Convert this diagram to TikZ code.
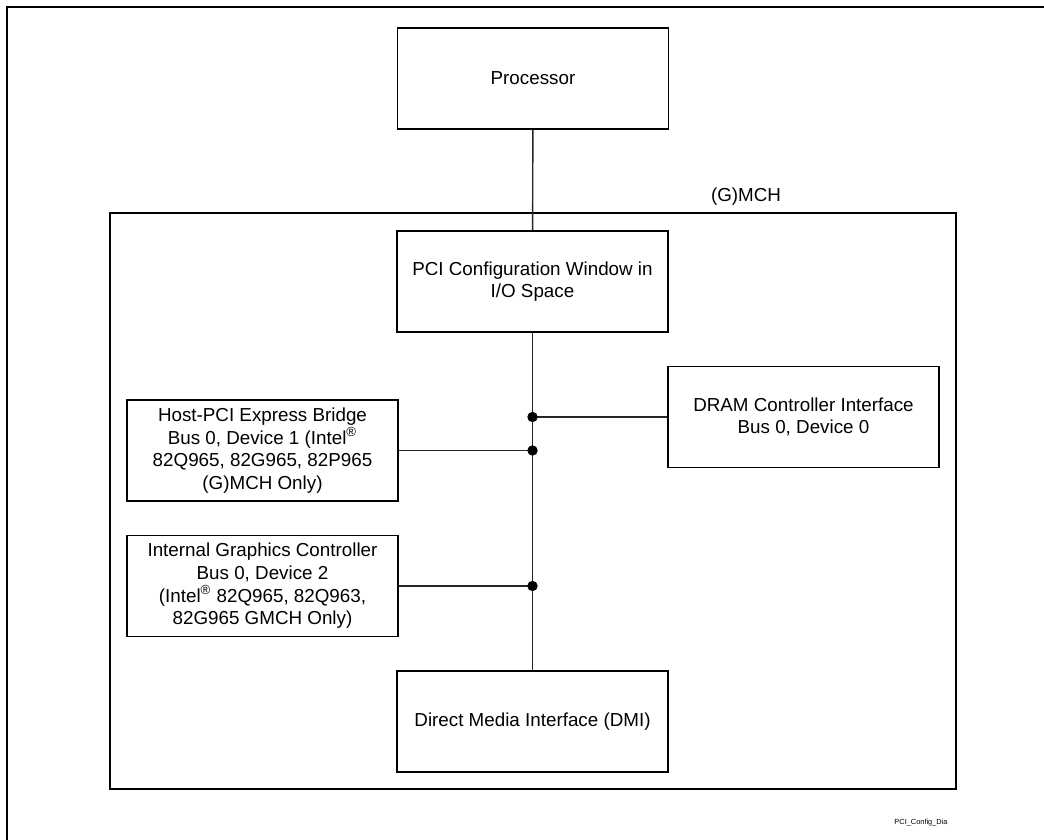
\documentclass[tikz,border=0pt]{standalone}
\usepackage{fontspec}
\setmainfont{Liberation Sans}
\usepackage{tikz}

\begin{document}
\begin{tikzpicture}[
    x=0.5pt, y=-0.5pt,
    block/.style={rectangle, draw=black, line width=0.7pt, minimum width=135.5pt, minimum height=50.5pt, inner sep=0pt, font=\fontsize{9.4}{11.3}\selectfont},
    chip/.style={rectangle, draw=black, line width=1.2pt, minimum width=423pt, minimum height=288pt, inner sep=0pt},
    wire/.style={line width=0.7pt, draw=black!85},
    dot/.style={fill=black},
    every node/.style={align=center}
]
\useasboundingbox (0,0) rectangle (1044,840);

% Page frame
\draw[line width=1.2pt] (7,840) -- (7,7) -- (1044,7);

% Chip outline
\node[chip] (mch) at (533,501) {};
\node[font=\fontsize{9.4}{11.3}\selectfont] (mchlabel) at (746,197) {(G)MCH};

% Blocks
\node[block] (cpu) at (533,78.5) {Processor};
\node[block] (pci) at (532.5,281.5) {PCI Configuration Window in\\I/O Space};
\node[block] (dram) at (803.5,417) {DRAM Controller Interface\\Bus 0, Device 0};
\node[block] (host) at (262.5,450.5) {Host-PCI Express Bridge\\Bus 0, Device 1 (Intel\textsuperscript{\textregistered}\\82Q965, 82G965, 82P965\\(G)MCH Only)};
\node[block] (gfx) at (262.5,586) {Internal Graphics Controller\\Bus 0, Device 2\\(Intel\textsuperscript{\textregistered} 82Q965, 82Q963,\\82G965 GMCH Only)};
\node[block] (dmi) at (532.5,721.5) {Direct Media Interface (DMI)};

% Junctions on the trunk
\coordinate (j1) at (pci.south |- dram.west);
\coordinate (j2) at (pci.south |- host.east);
\coordinate (j3) at (pci.south |- gfx.east);

% Connections
\draw[wire] (cpu) -- (pci);
\draw[wire] (pci) -- (dmi);
\draw[wire] (dram) -- (j1);
\draw[wire] (host) -- (j2);
\draw[wire] (gfx) -- (j3);
\fill[dot] (j1) circle (2.6pt);
\fill[dot] (j2) circle (2.6pt);
\fill[dot] (j3) circle (2.6pt);

% Figure tag
\node[font=\fontsize{3.7}{4.4}\selectfont] (tag) at (921,823) {PCI\_Config\_Dia};

\end{tikzpicture}
\end{document}
